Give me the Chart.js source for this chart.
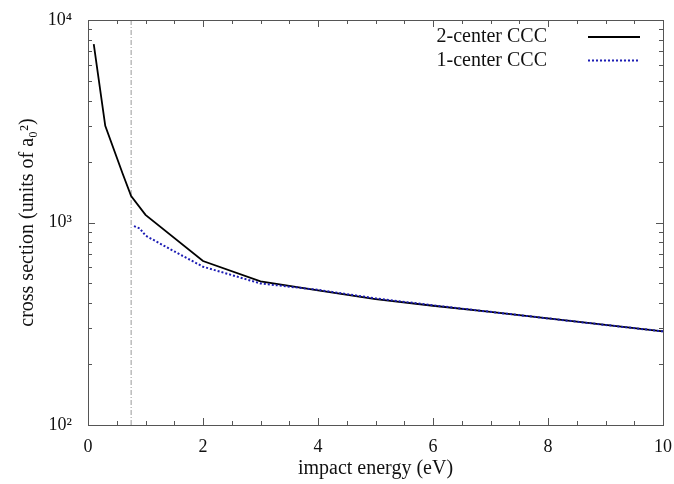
<!DOCTYPE html>
<html>
<head>
<meta charset="utf-8">
<script src="https://cdn.jsdelivr.net/npm/chart.js@4/dist/chart.umd.min.js"></script>
<style>
  html, body { margin: 0; padding: 0; background: #fff; }
  #wrap { width: 674px; height: 484px; }
</style>
</head>
<body>
<div id="wrap"><canvas id="c" width="674" height="484"></canvas></div>
<script>
// impact energy (eV) and cross sections (units of a0^2)
const energy2c = [0.1, 0.3, 0.6, 0.75, 1, 2, 3, 4, 5, 6, 7, 8, 9, 10];
const sigma2c  = [7600, 3000, 1750, 1350, 1090, 645, 512, 462, 418, 388, 362, 336, 312, 290];
const energy1c = [0.8, 0.9, 1, 1.5, 2, 3, 4, 5, 6, 7, 8, 9, 10];
const sigma1c  = [960, 935, 862, 720, 605, 500, 465, 422, 390, 362, 336, 312, 290];
const threshold = 0.75;
const xTicks = [0, 2, 4, 6, 8, 10];
const yTicks = [100, 1000, 10000];
const yTickLabels = ['10²', '10³', '10⁴'];

const FONT = '"Liberation Serif", "DejaVu Serif", serif';

function pts(xs, ys) { return xs.map((x, i) => ({ x, y: ys[i] })); }

// gnuplot-style inward ticks on all four sides + frame + legend in the corner
const framePlugin = {
  id: 'frame',
  afterDatasetsDraw(chart) {
    const { ctx, chartArea: a, scales: { x, y } } = chart;
    ctx.save();
    ctx.strokeStyle = '#555';
    ctx.lineWidth = 1;
    ctx.beginPath();
    for (let v = 0; v <= 10.001; v += 0.5) {
      const px = Math.round(x.getPixelForValue(v)) + 0.5;
      const len = (Math.abs(v % 2) < 1e-6) ? 7 : 4;
      ctx.moveTo(px, a.bottom); ctx.lineTo(px, a.bottom - len);
      ctx.moveTo(px, a.top); ctx.lineTo(px, a.top + len);
    }
    for (let d = 100; d <= 10000; d *= 10) {
      for (let m = 1; m <= 9; m++) {
        const v = d * m;
        if (v > 10000) break;
        const py = Math.round(y.getPixelForValue(v)) + 0.5;
        const len = m === 1 ? 7 : 4;
        ctx.moveTo(a.left, py); ctx.lineTo(a.left + len, py);
        ctx.moveTo(a.right, py); ctx.lineTo(a.right - len, py);
      }
    }
    ctx.stroke();
    ctx.strokeRect(Math.round(a.left) + 0.5, Math.round(a.top) + 0.5,
                   Math.round(a.right - a.left), Math.round(a.bottom - a.top));

    // legend
    const entries = chart.data.datasets.filter(ds => ds.label);
    ctx.font = '20px ' + FONT;
    ctx.fillStyle = '#111';
    ctx.textAlign = 'right';
    ctx.textBaseline = 'middle';
    entries.forEach((ds, i) => {
      const ly = a.top + 17 + i * 23.5;
      ctx.fillText(ds.label, a.right - 116, ly);
      ctx.beginPath();
      ctx.strokeStyle = ds.borderColor;
      ctx.lineWidth = ds.borderWidth;
      ctx.setLineDash(ds.borderDash || []);
      ctx.moveTo(a.right - 75, ly);
      ctx.lineTo(a.right - 23, ly);
      ctx.stroke();
      ctx.setLineDash([]);
    });
    ctx.restore();
  }
};

function noOverflow(s) {
  s.paddingLeft = 0; s.paddingRight = 0; s.paddingTop = 0; s.paddingBottom = 0;
}

new Chart(document.getElementById('c'), {
  type: 'line',
  data: {
    datasets: [
      {
        label: '2-center CCC',
        data: pts(energy2c, sigma2c),
        borderColor: '#000',
        borderWidth: 1.8,
        pointRadius: 0,
        tension: 0,
        order: 2
      },
      {
        label: '1-center CCC',
        data: pts(energy1c, sigma1c),
        borderColor: '#1c1cb4',
        borderWidth: 2,
        borderDash: [2, 2],
        pointRadius: 0,
        tension: 0,
        order: 1
      },
      {
        label: '',
        data: [{ x: threshold, y: 100 }, { x: threshold, y: 10000 }],
        borderColor: '#999',
        borderWidth: 1,
        borderDash: [5, 2, 1, 2],
        pointRadius: 0,
        order: 3
      }
    ]
  },
  options: {
    responsive: false,
    animation: false,
    layout: { padding: { top: 20, right: 11, left: 0, bottom: 0 } },
    plugins: { legend: { display: false }, tooltip: { enabled: false } },
    scales: {
      x: {
        type: 'linear',
        min: 0, max: 10,
        afterBuildTicks: s => { s.ticks = xTicks.map(v => ({ value: v })); },
        afterFit: s => { s.height = 59; noOverflow(s); },
        grid: { display: false, drawTicks: false },
        border: { display: false },
        ticks: { color: '#111', font: { family: FONT, size: 18 }, padding: 11, maxRotation: 0 },
        title: { display: true, text: 'impact energy (eV)', color: '#111',
                 font: { family: FONT, size: 20 }, padding: { top: 0, bottom: 3 } }
      },
      y: {
        type: 'logarithmic',
        min: 100, max: 10000,
        afterBuildTicks: s => { s.ticks = yTicks.map(v => ({ value: v })); },
        afterFit: s => { s.width = 88; noOverflow(s); },
        grid: { display: false, drawTicks: false },
        border: { display: false },
        ticks: {
          color: '#111', font: { family: FONT, size: 18 }, padding: 16,
          callback: v => yTickLabels[yTicks.indexOf(v)]
        },
        title: { display: true, text: 'cross section (units of a₀²)', color: '#111',
                 font: { family: FONT, size: 20 }, padding: { top: 16, bottom: 0 } }
      }
    }
  },
  plugins: [framePlugin]
});
</script>
</body>
</html>
